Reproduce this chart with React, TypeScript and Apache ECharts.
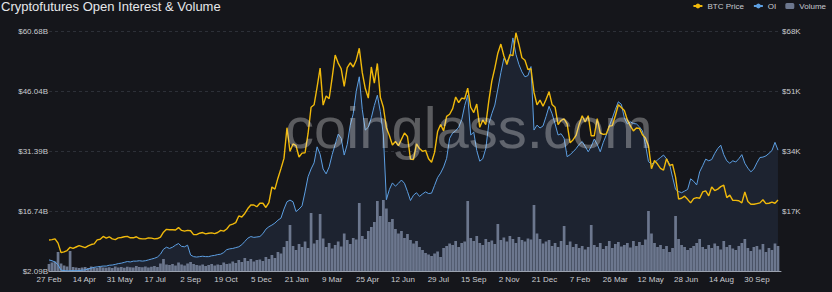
import React, { useEffect, useRef } from "react";
import * as echarts from "echarts";

// Category ticks (every 47th trading day of the daily category axis)
const TICK_LABELS = [
  "27 Feb", "14 Apr", "31 May", "17 Jul", "2 Sep", "19 Oct", "5 Dec", "21 Jan", "9 Mar", "25 Apr", "12 Jun",
  "29 Jul", "15 Sep", "2 Nov", "21 Dec", "7 Feb", "26 Mar", "12 May", "28 Jun", "14 Aug", "30 Sep",
];
const TICK_EVERY = 47;
const LAST_DAY = 972;
const SAMPLE_EVERY = 4; // one sample every 4 days of the category axis

// BTC price, $K
const BTC_PRICE = [
  8.8, 8.9, 9.1, 7.9, 5.2, 5.4, 5.8, 6.7, 6.4, 6.8,
  7.2, 6.9, 6.6, 7.1, 7.5, 7.7, 8.8, 9.0, 9.8, 9.3,
  9.7, 9.1, 8.9, 9.4, 9.5, 9.7, 9.8, 9.4, 9.4, 9.7,
  9.2, 9.1, 9.1, 9.4, 9.3, 9.1, 9.2, 9.6, 11.0, 11.8,
  11.7, 11.7, 11.6, 12.3, 11.5, 11.3, 11.5, 11.4, 10.3, 10.3,
  10.7, 10.9, 10.5, 10.7, 10.8, 10.6, 10.9, 11.5, 11.3, 11.9,
  13.0, 13.3, 13.7, 15.6, 15.3, 16.3, 17.7, 18.7, 18.7, 18.2,
  19.2, 19.2, 18.0, 19.4, 23.8, 23.2, 26.3, 29.0,
  31.9, 40.6, 33.9, 36.0, 35.5, 32.3, 33.4, 33.5, 38.9, 46.4,
  47.1, 52.1, 57.5, 47.0, 49.6, 48.8, 54.8, 61.2, 58.9, 57.3,
  52.3, 57.6, 59.0, 57.8, 59.8, 63.1, 56.2, 51.7, 49.0, 57.8,
  53.2, 58.8, 49.2, 46.4, 40.6, 38.4, 35.7, 36.7, 35.5, 37.3,
  39.1, 38.1, 31.7, 31.6, 36.0, 34.7, 33.9, 34.2, 31.8, 30.8,
  33.6, 39.5, 41.5, 39.7, 43.8, 44.4, 46.0, 49.3, 47.7, 49.0,
  48.8, 51.8, 46.4, 44.9, 47.3, 40.7, 42.8, 41.5, 48.2, 53.8,
  57.5, 61.7, 64.3, 61.0, 58.5, 61.3, 61.0, 67.5, 64.2, 60.4,
  59.7, 57.1, 57.3, 50.6, 47.1, 48.4, 46.7, 48.6, 50.8, 47.2,
  46.4, 41.5, 42.7, 43.1, 41.7, 36.3, 37.2, 38.5, 41.6, 44.0,
  42.2, 44.0, 38.3, 38.3, 43.2, 39.1, 38.7, 38.8, 41.1, 41.2,
  44.0, 47.1, 46.3, 45.5, 42.8, 41.1, 39.7, 40.5, 40.4, 38.6,
  37.7, 35.5, 29.0, 31.3, 30.3, 29.1, 28.6, 31.8, 29.9, 30.2,
  26.6, 20.4, 20.6, 21.2, 20.3, 19.3, 20.5, 20.8, 20.6, 22.4,
  22.7, 21.3, 23.8, 22.8, 23.2, 23.9, 24.3, 20.8, 21.5, 20.0,
  20.0, 19.9, 19.3, 22.4, 19.7, 18.9, 18.9, 19.1, 19.3, 20.2,
  19.1, 19.2, 19.5, 19.2, 20.1,
];

// Open interest, $B
const OPEN_INTEREST = [
  4.8, 4.6, 4.3, 3.6, 2.3, 2.2, 2.1, 2.15, 2.2, 2.15,
  2.2, 2.3, 2.35, 2.6, 2.8, 3.0, 3.1, 3.2, 3.3, 3.3,
  3.5, 3.55, 3.7, 3.9, 4.0, 4.2, 4.4, 4.3, 4.5, 4.5,
  4.6, 4.5, 4.6, 4.8, 5.0, 5.2, 5.5, 6.2, 7.4, 7.9,
  7.6, 7.9, 8.4, 8.8, 8.1, 8.0, 8.4, 6.0, 5.6, 5.5,
  5.6, 5.7, 5.6, 5.6, 5.8, 5.9, 6.1, 6.2, 6.6, 7.3,
  7.5, 7.6, 7.8, 8.0, 8.5, 9.3, 10.1, 10.5, 10.3, 10.4,
  10.5, 11.2, 12.3, 12.9, 13.3, 13.8, 14.5, 15.0, 17.2, 19.0,
  19.4, 19.0, 16.6, 17.2, 18.0, 21.4, 25.1, 27.0, 28.5, 32.4,
  30.6, 27.0, 25.8, 27.5, 30.5, 33.0, 35.5, 34.5, 30.4, 33.0,
  37.7, 40.5, 46.0, 49.5, 41.5, 36.5, 37.2, 39.5, 42.5, 45.0,
  41.0, 35.3, 19.5, 22.0, 23.6, 22.8, 23.5, 24.3, 23.5, 21.5,
  19.3, 20.6, 21.2, 20.3, 20.9, 21.4, 21.0, 21.1, 23.0, 24.9,
  26.0, 27.5, 29.6, 34.5, 35.8, 36.3, 37.2, 39.0, 42.5, 45.0,
  35.3, 36.0, 31.5, 28.9, 29.5, 32.0, 38.0, 40.5, 42.6, 46.5,
  50.5, 54.0, 53.2, 54.4, 59.0, 55.0, 52.5, 50.7, 49.5, 49.8,
  52.0, 36.5, 37.7, 37.0, 37.5, 39.8, 42.3, 40.5, 38.0, 35.3,
  35.6, 34.5, 30.0, 30.5, 31.2, 32.0, 33.0, 33.7, 32.5, 31.2,
  32.5, 34.3, 33.0, 31.2, 33.5, 35.3, 37.5, 39.4, 41.5, 43.4,
  42.8, 39.5, 38.0, 38.5, 38.1, 38.0, 37.3, 36.3, 33.0, 28.8,
  28.2, 28.5, 29.2, 29.8, 30.4, 29.5, 28.2, 25.0, 22.0, 21.5,
  21.2, 21.6, 22.0, 24.6, 24.0, 23.1, 26.3, 27.8, 29.4, 29.0,
  29.3, 30.8, 32.0, 32.8, 30.5, 29.0, 28.4, 29.0, 28.7, 29.5,
  30.5, 28.4, 27.2, 26.3, 27.0, 28.5, 29.8, 29.9, 30.2, 30.8,
  31.5, 33.5, 31.6,
];

// Volume, $B
const VOLUME = [
  28, 34, 38, 76, 30, 22, 18, 80, 16, 14,
  12, 14, 16, 12, 18, 14, 12, 16, 14, 13,
  15, 12, 18, 14, 16, 13, 17, 15, 14, 20,
  16, 15, 18, 14, 17, 20, 16, 30, 48, 26,
  24, 28, 22, 34, 26, 22, 30, 36, 28, 24,
  22, 26, 20, 24, 28, 22, 26, 24, 34, 28,
  30, 38, 32, 44, 36, 52, 40, 48, 38, 44,
  46, 40, 56, 48, 64, 52, 76, 70, 96, 120,
  184, 100, 84, 108, 96, 118, 92, 232, 110, 124,
  228, 130, 96, 112, 90, 104, 118, 98, 150, 124,
  108, 132, 126, 272, 140, 128, 160, 176, 196, 280,
  220, 284, 250, 196, 208, 168, 150, 160, 132, 148,
  124, 110, 120, 96, 84, 72, 66, 60, 70, 78,
  56, 92, 100, 110, 104, 120, 96, 112, 118, 280,
  132, 120, 140, 112, 104, 128, 116, 122, 108, 188,
  124, 134, 118, 140, 128, 112, 136, 124, 118, 130,
  126, 264, 150, 128, 110, 118, 124, 100, 112, 96,
  120, 180, 104, 118, 96, 108, 92, 100, 86, 96,
  184, 104, 96, 112, 88, 100, 120, 92, 108, 116,
  98, 104, 112, 94, 120, 100, 116, 104, 126, 240,
  150, 112, 96, 104, 88, 100, 76, 92, 220, 128,
  104, 96, 84, 92, 100, 112, 128, 96, 88, 104,
  92, 110, 100, 86, 120, 96, 104, 90, 84, 100,
  112, 128, 92, 80, 96, 100, 86, 108, 76, 92,
  84, 110, 100,
];

const FONT = "Liberation Sans, Arial, Helvetica, sans-serif";
const LABEL_COLOR = "#c9cbd0";

const toPoints = (arr: number[]) => arr.map((v, i) => [i * SAMPLE_EVERY, v]);

export default function App() {
  const ref = useRef<HTMLDivElement>(null);

  useEffect(() => {
    if (!ref.current) return;
    const chart = echarts.init(ref.current, null, { renderer: "svg" });
    const oi = toPoints(OPEN_INTEREST);
    chart.setOption({
      animation: false,
      backgroundColor: "#15161b",
      textStyle: { fontFamily: FONT },
      title: {
        text: "Cryptofutures Open Interest & Volume",
        left: 0,
        top: 0,
        padding: [0, 0, 0, 1],
        textStyle: { color: "#e6e7ea", fontSize: 13, fontWeight: "normal", fontFamily: FONT },
      },
      legend: {
        data: ["BTC Price", "OI", "Volume"],
        right: 6,
        top: 2,
        padding: 0,
        itemWidth: 9,
        itemHeight: 6,
        itemGap: 9,
        textStyle: { color: LABEL_COLOR, fontSize: 8, fontFamily: FONT },
      },
      grid: { left: 49, right: 51, top: 31, bottom: 21, containLabel: false },
      xAxis: {
        type: "value",
        min: 0,
        max: LAST_DAY,
        interval: TICK_EVERY,
        axisLine: { show: true, lineStyle: { color: "#9aa1ae", width: 1 } },
        axisTick: { show: false },
        splitLine: { show: false },
        axisLabel: {
          color: LABEL_COLOR,
          fontSize: 8,
          margin: 4,
          showMaxLabel: false,
          formatter: (v: number) => {
            if (v % TICK_EVERY !== 0) return "";
            return TICK_LABELS[v / TICK_EVERY] ?? "";
          },
        },
      },
      yAxis: [
        {
          type: "value",
          position: "left",
          min: 2.092,
          max: 60.684,
          interval: 14.648,
          axisLine: { show: false },
          axisTick: { show: false },
          splitLine: { show: true, lineStyle: { color: "#2d3038", type: [3, 3], width: 1 } },
          axisLabel: {
            color: LABEL_COLOR,
            fontSize: 8,
            margin: 1,
            formatter: (v: number) => "$" + v.toFixed(2) + "B",
          },
        },
        {
          type: "value",
          position: "right",
          min: 0,
          max: 68,
          interval: 17,
          axisLine: { show: false },
          axisTick: { show: false },
          splitLine: { show: false },
          axisLabel: {
            color: LABEL_COLOR,
            fontSize: 8,
            margin: 1,
            showMinLabel: false,
            formatter: (v: number) => "$" + v + "K",
          },
        },
        { type: "value", show: false, min: 0, max: 960 },
      ],
      series: [
        {
          name: "OI",
          type: "line",
          yAxisIndex: 0,
          data: oi,
          showSymbol: false,
          symbol: "circle",
          symbolSize: 4,
          z: 4,
          itemStyle: { color: "#5d9fe2" },
          lineStyle: { color: "#5d9fe2", width: 1 },
        },
        {
          name: "OI",
          type: "line",
          yAxisIndex: 0,
          data: oi,
          showSymbol: false,
          z: 1,
          lineStyle: { width: 0, opacity: 0 },
          areaStyle: { color: "#1d2330", opacity: 1 },
        },
        {
          name: "Volume",
          type: "bar",
          yAxisIndex: 2,
          data: toPoints(VOLUME),
          barWidth: 2.7,
          z: 2,
          itemStyle: { color: "#6c778e" },
        },
        {
          name: "BTC Price",
          type: "line",
          yAxisIndex: 1,
          data: toPoints(BTC_PRICE),
          showSymbol: false,
          symbol: "circle",
          symbolSize: 4,
          z: 5,
          itemStyle: { color: "#f0b90b" },
          lineStyle: { color: "#f0b90b", width: 1.4 },
        },
      ],
      graphic: [
        {
          type: "text",
          x: 285,
          y: 127,
          z: 100,
          silent: true,
          style: {
            text: "coinglass.com",
            fontSize: 58,
            fontFamily: FONT,
            fill: "rgba(255,255,255,0.3)",
            verticalAlign: "middle",
            align: "left",
          },
        },
      ],
    });
    return () => chart.dispose();
  }, []);

  return (
    <div
      ref={ref}
      style={{ position: "fixed", left: 0, top: 0, width: 832, height: 292 }}
    />
  );
}
